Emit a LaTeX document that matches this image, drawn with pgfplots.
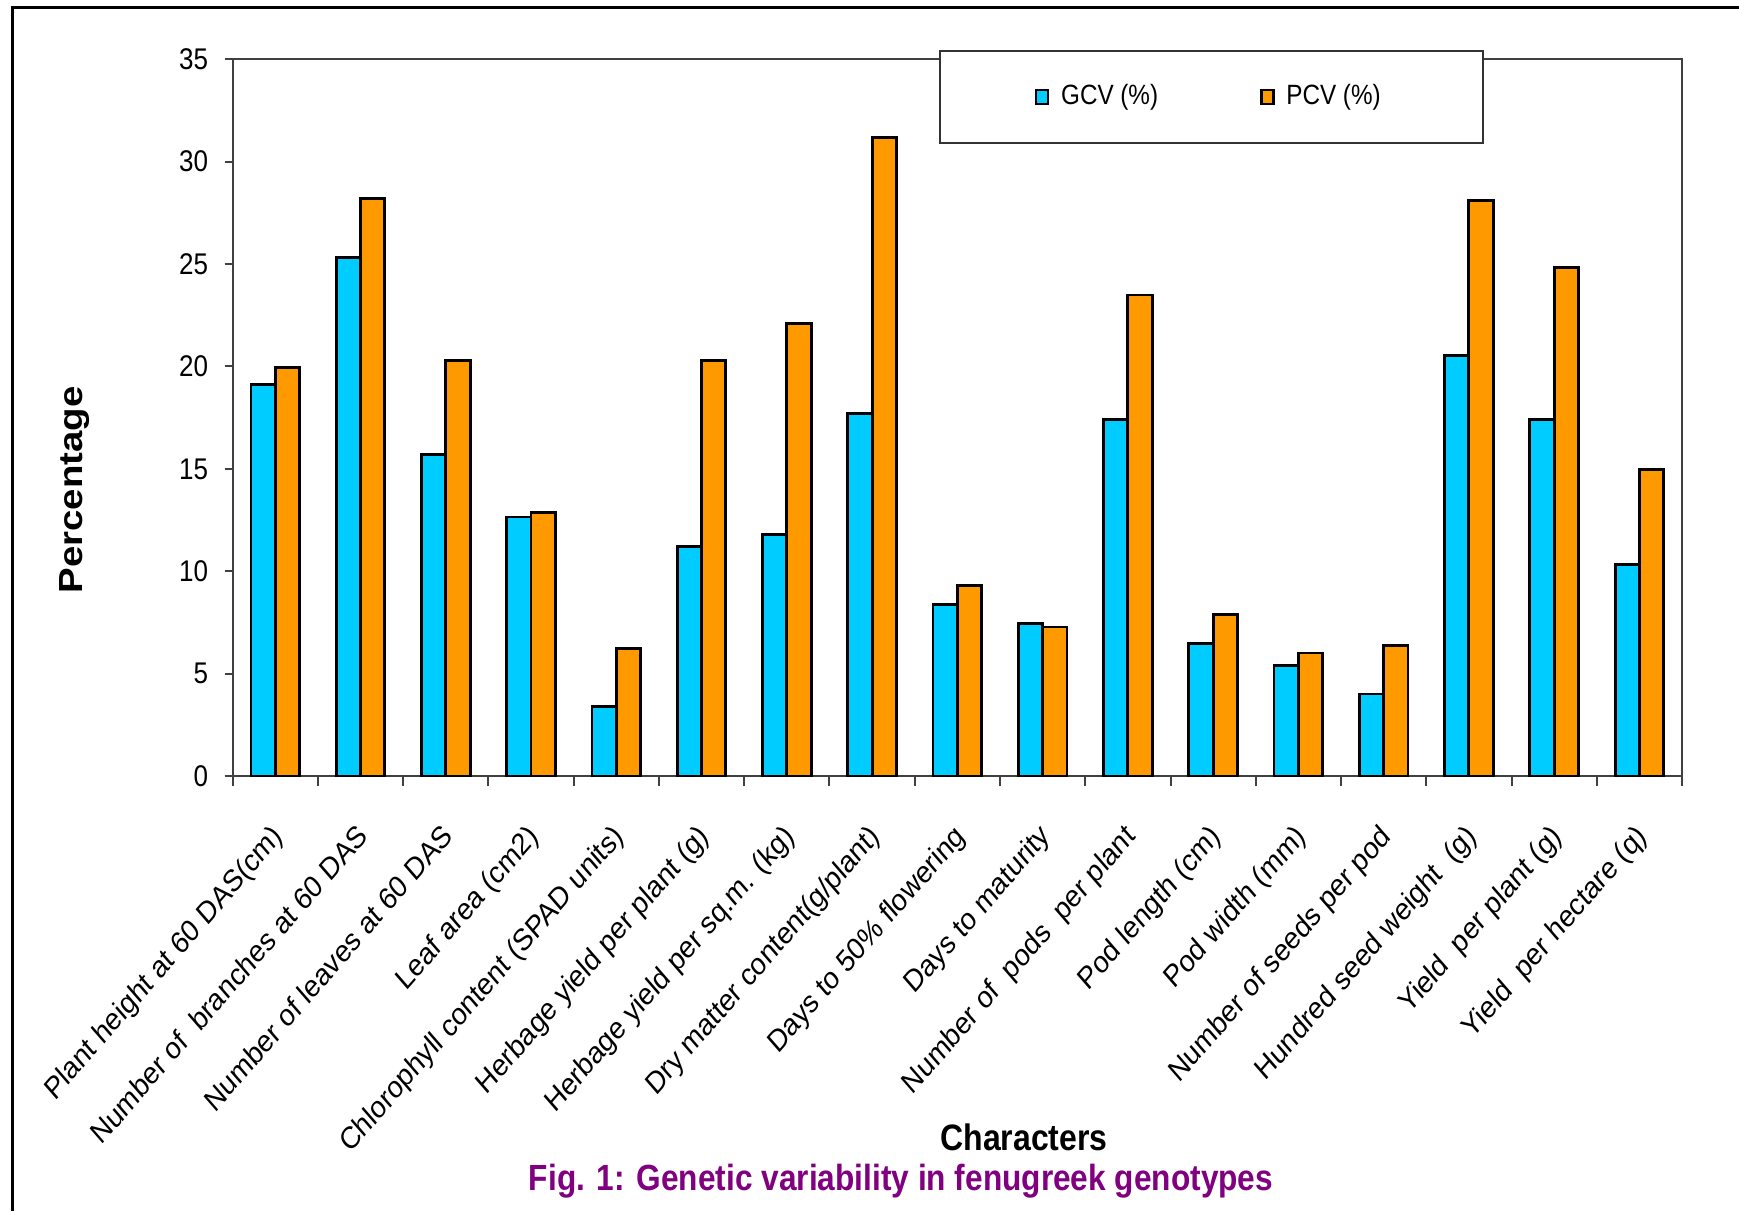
\documentclass[border=0pt]{standalone}
\usepackage{fontspec}
\setmainfont{Liberation Sans}
\usepackage{pgfplots}
\pgfplotsset{compat=1.18}
\definecolor{gcv}{HTML}{00CCFF}
\definecolor{pcv}{HTML}{FF9900}
\definecolor{figpurple}{HTML}{800080}
\begin{document}
\begin{tikzpicture}
\useasboundingbox (0,0) rectangle (173.9mm,121.1mm);
\draw[line width=0.3mm] (1.2mm,0) -- (1.2mm,120.4mm) -- (173.9mm,120.4mm);
\begin{axis}[
  at={(23.27mm,43.5mm)}, anchor=south west,
  width=144.93mm, height=71.67mm, scale only axis,
  ybar, bar width=0.285,
  xmin=-0.5, xmax=16.5, ymin=0, ymax=35,
  ytick={0,5,...,35},
  xtick={0,...,16},
  xtick pos=bottom, ytick pos=left,
  xticklabels={Plant height at 60 DAS(cm), Number of\ \ branches at 60 DAS, Number of leaves at 60 DAS, Leaf area (cm2), Chlorophyll content (SPAD units), Herbage yield per plant (g), Herbage yield per sq.m. (kg), Dry matter content(g/plant), Days to 50\% flowering, Days to maturity, Number of\ \ pods\ \ per plant, Pod length (cm), Pod width (mm), Number of seeds per pod, Hundred seed weight\ \ (g), Yield\ \ per plant (g), Yield\ \ per hectare (q)},
  minor xtick={-0.5,0.5,...,16.5},
  tick align=outside,
  major tick length=0.8mm,
  minor tick length=1mm,
  major x tick style={draw=none},
  minor x tick style={draw=black!75, line width=0.2mm},
  ytick style={draw=black!75, line width=0.2mm},
  axis line style={draw=black!75, line width=0.2mm},
  /pgf/number format/assume math mode=true,
  xticklabel style={font=\fontsize{7.6}{9}\selectfont, anchor=north east, inner sep=0pt, xshift=-0.5mm, yshift=-3.7mm, cm={0.7071,0.8132,-0.7071,0.8132,(0,0)}},
  yticklabel style={font=\fontsize{7.4}{9}\selectfont, anchor=east, inner sep=0pt, xshift=-1.6mm, yscale=1.15},
  legend columns=2,
  legend style={at={(axis description cs:0.4873,1.013)}, anchor=north west, draw=black!80, line width=0.2mm, fill=white, inner xsep=9.5mm, inner ysep=2.5mm, font=\fontsize{6.9}{8}\selectfont, nodes={yscale=1.15}, /tikz/every even column/.append style={column sep=9.5mm}},
  legend image code/.code={\draw[#1, draw=black, line width=0.25mm] (0mm,-0.7mm) rectangle (1.2mm,0.7mm); \path (1.65mm,0);},
]
\addplot[fill=gcv, draw=black, line width=0.28mm, bar shift=-0.1425] coordinates {
(0,19.12) (1,25.31) (2,15.69) (3,12.65) (4,3.38) (5,11.20) (6,11.80) (7,17.69) (8,8.39) (9,7.43) (10,17.43) (11,6.47) (12,5.40) (13,4.01) (14,20.55) (15,17.43) (16,10.33)};
\addplot[fill=pcv, draw=black, line width=0.28mm, bar shift=0.1425] coordinates {
(0,19.95) (1,28.21) (2,20.31) (3,12.86) (4,6.21) (5,20.31) (6,22.11) (7,31.2) (8,9.30) (9,7.28) (10,23.49) (11,7.89) (12,6.01) (13,6.38) (14,28.09) (15,24.82) (16,14.97)};
\legend{GCV (\%), PCV (\%)}
\end{axis}
\node[font=\bfseries\fontsize{9.5}{11}\selectfont, cm={0,1.15,-1,0,(0,0)}] at (7.5mm,72.1mm) {Percentage};
\node[font=\bfseries\fontsize{9.1}{11}\selectfont, yscale=1.15] at (102.4mm,7.4mm) {Characters};
\node[font=\bfseries\fontsize{9}{11}\selectfont, text=figpurple, yscale=1.15] at (90.1mm,3.0mm) {Fig. 1: Genetic variability in fenugreek genotypes};
\end{tikzpicture}
\end{document}
